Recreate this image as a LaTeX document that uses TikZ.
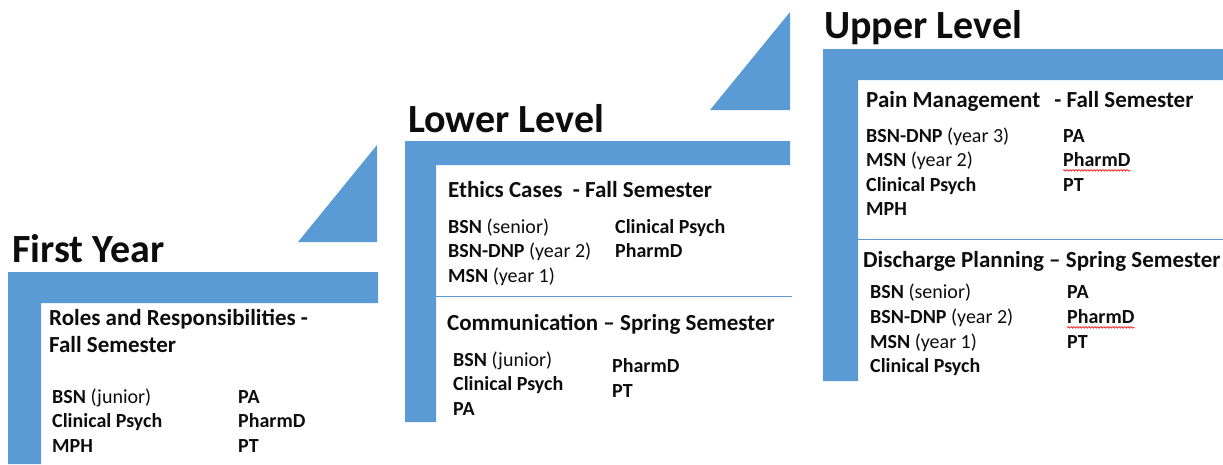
\documentclass[tikz,border=0pt]{standalone}
\usepackage{fontspec}
\setmainfont{Carlito}
\usetikzlibrary{decorations.pathmorphing}
\definecolor{ppblue}{HTML}{5B9BD5}
\definecolor{txt}{HTML}{0D0D0D}
\begin{document}
\begin{tikzpicture}[x=1pt,y=-1pt,
  band/.style={fill=ppblue},
  lvl/.style={anchor=base west, inner sep=0, text=txt, font=\bfseries\fontsize{40}{48}\selectfont},
  hdr/.style={anchor=base west, inner sep=0, text=txt, font=\bfseries\fontsize{23}{27}\selectfont},
  item/.style={anchor=base west, inner sep=0, text=txt, font=\fontsize{20}{24}\selectfont},
  sep/.style={draw=ppblue, line width=1pt},
  spell/.style={draw=red, line width=0.6pt, decorate, decoration={snake, amplitude=0.8pt, segment length=3pt}}
]
\useasboundingbox (0,0) rectangle (1223,464);

% ---------- shapes ----------
\fill[band] (8,272) -- (378,272) -- (378,303) -- (41,303) -- (41,464) -- (8,464) -- cycle;
\fill[band] (298,242) -- (377,145) -- (377,242) -- cycle;
\fill[band] (405,141) -- (790,141) -- (790,165) -- (436,165) -- (436,422) -- (405,422) -- cycle;
\fill[band] (710,110) -- (790,12) -- (790,110) -- cycle;
\fill[band] (823,49) -- (1223,49) -- (1223,80) -- (858,80) -- (858,381) -- (823,381) -- cycle;
\draw[sep] (436,296) -- (792,296);
\draw[sep] (858,239) -- (1223,239);

% ---------- First Year ----------
\node[lvl] (t1) at (12,262) {First Year};
\node[hdr] (h1a) at (49,325) {Roles and Responsibilities -};
\node[hdr] (h1b) at (49,352) {Fall Semester};
\node[item] (a1) at (52,403) {\textbf{BSN} (junior)};
\node[item] (a2) at (52,427) {\textbf{Clinical Psych}};
\node[item] (a3) at (52,452) {\textbf{MPH}};
\node[item] (b1) at (238,403) {\textbf{PA}};
\node[item] (b2) at (238,427) {\textbf{PharmD}};
\node[item] (b3) at (238,452) {\textbf{PT}};

% ---------- Lower Level ----------
\node[lvl] (t2) at (408,132) {Lower Level};
\node[hdr] (h2) at (448,197) {Ethics Cases\ \ - Fall Semester};
\node[item] (c1) at (448,233) {\textbf{BSN} (senior)};
\node[item] (c2) at (448,257) {\textbf{BSN-DNP} (year 2)};
\node[item] (c3) at (448,282) {\textbf{MSN} (year 1)};
\node[item] (d1) at (615,233) {\textbf{Clinical Psych}};
\node[item] (d2) at (615,257) {\textbf{PharmD}};
\node[hdr] (h3) at (447,330) {Communication – Spring Semester};
\node[item] (e1) at (453,366) {\textbf{BSN} (junior)};
\node[item] (e2) at (453,390) {\textbf{Clinical Psych}};
\node[item] (e3) at (453,415) {\textbf{PA}};
\node[item] (f1) at (612,372) {\textbf{PharmD}};
\node[item] (f2) at (612,397) {\textbf{PT}};

% ---------- Upper Level ----------
\node[lvl] (t3) at (824,38) {Upper Level};
\node[hdr] (h4) at (866,107) {Pain Management\hspace{14pt}- Fall Semester};
\node[item] (g1) at (866,142) {\textbf{BSN-DNP} (year 3)};
\node[item] (g2) at (866,166) {\textbf{MSN} (year 2)};
\node[item] (g3) at (866,191) {\textbf{Clinical Psych}};
\node[item] (g4) at (866,215) {\textbf{MPH}};
\node[item] (k1) at (1063,142) {\textbf{PA}};
\node[item] (k2) at (1063,166) {\textbf{PharmD}};
\node[item] (k3) at (1063,191) {\textbf{PT}};
\node[hdr] (h5) at (863,267) {Discharge Planning – Spring Semester};
\node[item] (m1) at (870,298) {\textbf{BSN} (senior)};
\node[item] (m2) at (870,323) {\textbf{BSN-DNP} (year 2)};
\node[item] (m3) at (870,348) {\textbf{MSN} (year 1)};
\node[item] (m4) at (870,372) {\textbf{Clinical Psych}};
\node[item] (n1) at (1067,298) {\textbf{PA}};
\node[item] (n2) at (1067,323) {\textbf{PharmD}};
\node[item] (n3) at (1067,348) {\textbf{PT}};

\draw[spell] ([yshift=-4pt]k2.south west) -- ([yshift=-4pt]k2.south east);
\draw[spell] ([yshift=-4pt]n2.south west) -- ([yshift=-4pt]n2.south east);
\end{tikzpicture}
\end{document}
